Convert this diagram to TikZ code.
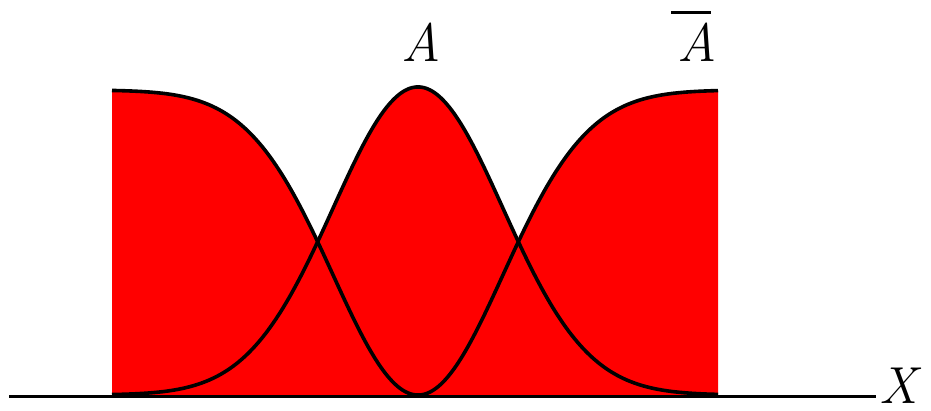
\documentclass[tikz,border=0pt]{standalone}
\usepackage{fontspec}
\begin{document}
\begin{tikzpicture}[x=1pt,y=-1pt,
  curve/.style={line width=3.6pt,black,line join=round},
  axis/.style={line width=3pt,black},
  lbl/.style={anchor=base,inner sep=0pt,font=\fontsize{54}{60}\selectfont\itshape}]
\useasboundingbox (0,0) rectangle (931,411);
\fill[red] (112,395) -- plot[domain=112:718,samples=400]
  (\x,{395-max(308*exp(-((\x-418)/120.1)^2),305*(1-exp(-((\x-418)/120.1)^2)))})
  -- (718,395) -- cycle;
\coordinate (ax0) at (9,396);
\coordinate (ax1) at (876,396);
\draw[axis] (ax0) -- (ax1);
\draw[curve] plot[domain=112:718,samples=300,smooth]
  (\x,{395-308*exp(-((\x-418)/120.1)^2)});
\draw[curve] plot[domain=112:718,samples=300,smooth]
  (\x,{395-305*(1-exp(-((\x-418)/120.1)^2))});
\node[lbl] (A) at (421,62) {A};
\node[lbl] (Ab) at (697,62) {A};
\draw[line width=3pt] ([xshift=-6pt,yshift=11pt]Ab.north west) -- ([xshift=-6pt,yshift=11pt]Ab.north east);
\node[lbl,font=\fontsize{52}{58}\selectfont\itshape] (X) at (898,403) {X};
\end{tikzpicture}
\end{document}
